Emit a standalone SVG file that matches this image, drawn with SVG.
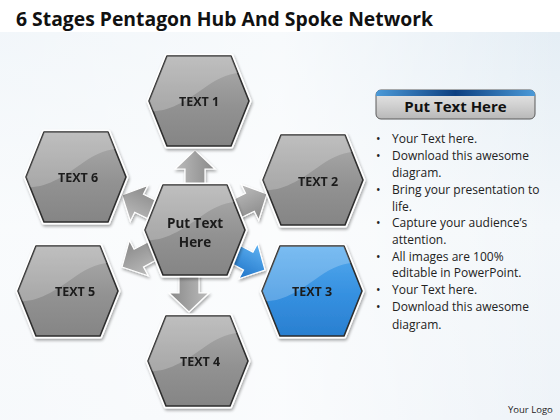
<svg xmlns="http://www.w3.org/2000/svg" width="560" height="420" viewBox="0 0 560 420">
<defs>
<linearGradient id="bg" x1="0" y1="0" x2="0" y2="1">
<stop offset="0" stop-color="#e5eef5"/>
<stop offset="0.5" stop-color="#f3f7fa"/>
<stop offset="1" stop-color="#eef3f8"/>
</linearGradient>
<linearGradient id="bgh" x1="0" y1="0" x2="1" y2="0">
<stop offset="0" stop-color="#ffffff" stop-opacity="0.5"/>
<stop offset="0.5" stop-color="#ffffff" stop-opacity="0.7"/>
<stop offset="1" stop-color="#ffffff" stop-opacity="0"/>
</linearGradient>
<linearGradient id="grey" x1="0" y1="0" x2="0" y2="1">
<stop offset="0" stop-color="#adadad"/>
<stop offset="0.55" stop-color="#929292"/>
<stop offset="1" stop-color="#858585"/>
</linearGradient>
<linearGradient id="blue" x1="0" y1="0" x2="0" y2="1">
<stop offset="0" stop-color="#55aaee"/>
<stop offset="0.55" stop-color="#3590e0"/>
<stop offset="1" stop-color="#2a7fd0"/>
</linearGradient>
<linearGradient id="arrG" x1="0" y1="0" x2="0" y2="1">
<stop offset="0" stop-color="#bcbcbc"/>
<stop offset="1" stop-color="#888888"/>
</linearGradient>
<linearGradient id="arrB" x1="0" y1="0" x2="0" y2="1">
<stop offset="0" stop-color="#5fb2f2"/>
<stop offset="1" stop-color="#1f74c8"/>
</linearGradient>
<linearGradient id="btn" x1="0" y1="0" x2="0" y2="1">
<stop offset="0" stop-color="#e8e8e8"/>
<stop offset="0.5" stop-color="#d2d2d2"/>
<stop offset="1" stop-color="#b8b8b8"/>
</linearGradient>
<linearGradient id="btnTop" x1="0" y1="0" x2="1" y2="0">
<stop offset="0" stop-color="#4b9ad8"/>
<stop offset="0.5" stop-color="#0d3f80"/>
<stop offset="1" stop-color="#4b9ad8"/>
</linearGradient>
<path id="hex" d="M-50,0 L-32,-45 L32,-45 L50,0 L32,45 L-32,45 Z" stroke-linejoin="round"/>
<path id="gloss" d="M-50,10 C-30,12 -10,-2 8,-15 C22,-25 38,-30 50,-28 L50,-50 L-50,-50 Z"/>
<clipPath id="hexClip"><use href="#hex"/></clipPath>
<polygon id="arrow" points="0,0 -19,-20 -19,-10 -42,-10 -42,10 -19,10 -19,20"/>
<filter id="sh" x="-20%" y="-20%" width="140%" height="140%">
<feGaussianBlur in="SourceAlpha" stdDeviation="1.5"/>
<feOffset dx="1" dy="1.5"/>
<feComponentTransfer><feFuncA type="linear" slope="0.35"/></feComponentTransfer>
<feMerge><feMergeNode/><feMergeNode in="SourceGraphic"/></feMerge>
</filter>
</defs>
<style>
.title{font-family:"Open Sans","Liberation Sans",sans-serif;font-weight:bold;font-size:19px;fill:#111}
.lbl{font-family:"Open Sans","Liberation Sans",sans-serif;font-weight:bold;font-size:12.5px;fill:#1a1a1a;text-anchor:middle}
.clbl{font-family:"Open Sans","Liberation Sans",sans-serif;font-weight:bold;font-size:13.5px;fill:#1a1a1a;text-anchor:middle}
.bul{font-family:"Open Sans","Liberation Sans",sans-serif;font-size:12px;fill:#222}
.outer{fill:none;stroke:#ffffff;stroke-width:5}
.edge{stroke:#2e2e2e;stroke-width:1.6}
.g{fill:url(#grey)}
.b{fill:url(#blue)}
.gl{fill:#ffffff;opacity:0.22}
.ag{fill:url(#arrG);stroke:#ffffff;stroke-width:1.2}
.ab{fill:url(#arrB);stroke:#ffffff;stroke-width:1.2}
</style>
<rect x="0" y="0" width="560" height="420" fill="#ffffff"/>
<rect x="0" y="32" width="560" height="388" fill="url(#bg)"/>
<rect x="0" y="32" width="560" height="388" fill="url(#bgh)"/>
<text class="title" x="16" y="26" textLength="417" lengthAdjust="spacingAndGlyphs">6 Stages Pentagon Hub And Spoke Network</text>

<g id="connectors" filter="url(#sh)">
<use href="#arrow" class="ag" transform="translate(195,150) rotate(-90)"/>
<use href="#arrow" class="ag" transform="translate(189,312) rotate(90)"/>
<use href="#arrow" class="ag" transform="translate(267,194) rotate(-26)"/>
<use href="#arrow" class="ab" transform="translate(265,270) rotate(28)"/>
<use href="#arrow" class="ag" transform="translate(122,195) rotate(206)"/>
<use href="#arrow" class="ag" transform="translate(122,267) rotate(152)"/>
</g>

<g id="hub" transform="translate(195,230)" filter="url(#sh)">
<use href="#hex" class="outer"/>
<use href="#hex" class="g edge"/>
<use href="#gloss" class="gl" clip-path="url(#hexClip)"/>
<text class="clbl" x="0" y="-2">Put Text</text>
<text class="clbl" x="0" y="17">Here</text>
</g>
<g id="n1" transform="translate(199,101)" filter="url(#sh)">
<use href="#hex" class="outer"/>
<use href="#hex" class="g edge"/>
<use href="#gloss" class="gl" clip-path="url(#hexClip)"/>
<text class="lbl" x="0" y="5">TEXT 1</text>
</g>
<g id="n2" transform="translate(313,180)" filter="url(#sh)">
<use href="#hex" class="outer"/>
<use href="#hex" class="g edge"/>
<use href="#gloss" class="gl" clip-path="url(#hexClip)"/>
<text class="lbl" x="5" y="6">TEXT 2</text>
</g>
<g id="n3" transform="translate(312,291)" filter="url(#sh)">
<use href="#hex" class="outer"/>
<use href="#hex" class="b edge"/>
<use href="#gloss" class="gl" clip-path="url(#hexClip)"/>
<text class="lbl" x="0" y="5">TEXT 3</text>
</g>
<g id="n4" transform="translate(198,361)" filter="url(#sh)">
<use href="#hex" class="outer"/>
<use href="#hex" class="g edge"/>
<use href="#gloss" class="gl" clip-path="url(#hexClip)"/>
<text class="lbl" x="2" y="5">TEXT 4</text>
</g>
<g id="n5" transform="translate(68,291)" filter="url(#sh)">
<use href="#hex" class="outer"/>
<use href="#hex" class="g edge"/>
<use href="#gloss" class="gl" clip-path="url(#hexClip)"/>
<text class="lbl" x="7" y="5">TEXT 5</text>
</g>
<g id="n6" transform="translate(76,177)" filter="url(#sh)">
<use href="#hex" class="outer"/>
<use href="#hex" class="g edge"/>
<use href="#gloss" class="gl" clip-path="url(#hexClip)"/>
<text class="lbl" x="2" y="5">TEXT 6</text>
</g>

<g id="panel">
<rect x="376" y="90" width="159" height="29" rx="5" fill="url(#btn)" stroke="#5a5a5a" stroke-width="1"/>
<path d="M381,90 L530,90 Q535,90 535,95 L535,96 L376,96 L376,95 Q376,90 381,90 Z" fill="url(#btnTop)"/>
<text x="455.5" y="112" text-anchor="middle" style="font-family:'Open Sans','Liberation Sans',sans-serif;font-weight:bold;font-size:15px;fill:#111">Put Text Here</text>
<g class="bul">
<text x="376" y="143">•</text><text x="392" y="143">Your Text here.</text>
<text x="376" y="160">•</text><text x="392" y="160">Download this awesome</text>
<text x="392" y="177">diagram.</text>
<text x="376" y="194">•</text><text x="392" y="194">Bring your presentation to</text>
<text x="392" y="211">life.</text>
<text x="376" y="227">•</text><text x="392" y="227">Capture your audience’s</text>
<text x="392" y="244">attention.</text>
<text x="376" y="261">•</text><text x="392" y="261">All images are 100%</text>
<text x="392" y="277">editable in PowerPoint.</text>
<text x="376" y="294">•</text><text x="392" y="294">Your Text here.</text>
<text x="376" y="311">•</text><text x="392" y="311">Download this awesome</text>
<text x="392" y="329">diagram.</text>
</g>
<text x="508" y="413" style="font-family:'Open Sans','Liberation Sans',sans-serif;font-size:9.5px;fill:#222">Your Logo</text>
</g>
</svg>
